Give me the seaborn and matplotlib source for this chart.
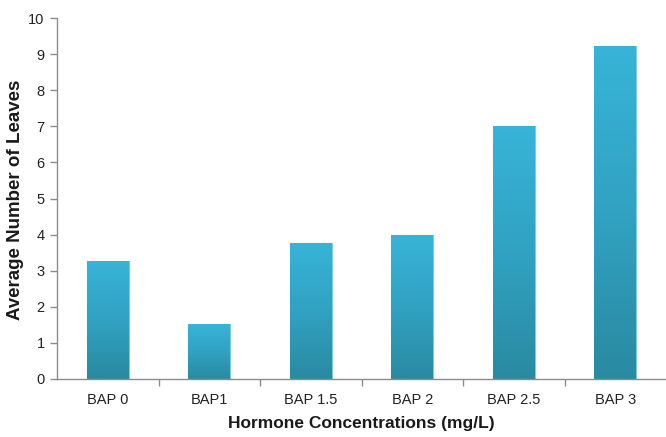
import numpy as np
import pandas as pd
import matplotlib
matplotlib.use("Agg")
import matplotlib.pyplot as plt
from matplotlib.colors import LinearSegmentedColormap
import seaborn as sns

# Average leaf count per BAP hormone concentration
categories = ["BAP 0", "BAP1", "BAP 1.5", "BAP 2", "BAP 2.5", "BAP 3"]
avg_leaves = [3.27, 1.52, 3.77, 4.0, 7.02, 9.22]

df = pd.DataFrame({"treatment": categories, "leaves": avg_leaves})

sns.set_theme(style="white")
plt.rcParams["font.family"] = ["Liberation Sans", "DejaVu Sans"]

fig = plt.figure(figsize=(6.66, 4.37), dpi=100)
ax = fig.add_axes([57 / 666, 58 / 437, 609 / 666, 361 / 437])

sns.barplot(data=df, x="treatment", y="leaves", ax=ax, width=0.41,
            color="#33A8CA", edgecolor="none", saturation=1)

# Vertical gradient fill for each bar: light cyan at the top, deep teal at the base
grad = LinearSegmentedColormap.from_list("bar_grad", ["#2A8AA1", "#31A2C2", "#37B4D8"])
gradient = np.linspace(0, 1, 256).reshape(-1, 1)
for patch in ax.patches:
    x0, y0 = patch.get_x(), patch.get_y()
    w, h = patch.get_width(), patch.get_height()
    patch.set_facecolor("none")
    patch.set_edgecolor("#7FCBE0")
    patch.set_linewidth(0.8)
    im = ax.imshow(gradient, extent=[x0, x0 + w, y0, y0 + h], origin="lower",
                   cmap=grad, aspect="auto", zorder=2, interpolation="bicubic")
    im.set_clip_path(patch)

ax.set_xlim(-0.5, len(categories) - 0.5)
ax.set_ylim(0, 10)
ax.set_yticks(range(0, 11))

axis_color = "#8C8C8C"
for side in ["top", "right"]:
    ax.spines[side].set_visible(False)
for side in ["left", "bottom"]:
    ax.spines[side].set_color(axis_color)
    ax.spines[side].set_linewidth(1.0)

# Category ticks sit between the bars
ax.set_xticks(np.arange(0.5, len(categories) - 0.5, 1.0), minor=False)
ax.set_xticklabels([])
ax.set_xticks(range(len(categories)), minor=True)
ax.set_xticklabels(categories, minor=True)
ax.tick_params(axis="x", which="major", bottom=True, length=5, color=axis_color, width=1)
ax.tick_params(axis="x", which="minor", bottom=False, length=0, labelsize=10.5,
               labelcolor="#222222", pad=10)
ax.tick_params(axis="y", left=True, length=5, color=axis_color, width=1,
               labelsize=10.5, labelcolor="#222222", pad=4)

ax.set_xlabel("Hormone Concentrations (mg/L)", fontsize=12.5, fontweight="bold",
              color="#1A1A1A")
ax.set_ylabel("Average Number of Leaves", fontsize=13.5, fontweight="bold",
              color="#1A1A1A")
ax.xaxis.set_label_coords(0.5, -0.102)
ax.yaxis.set_label_coords(-0.054, 0.496)

fig.savefig("out.png", dpi=100)
